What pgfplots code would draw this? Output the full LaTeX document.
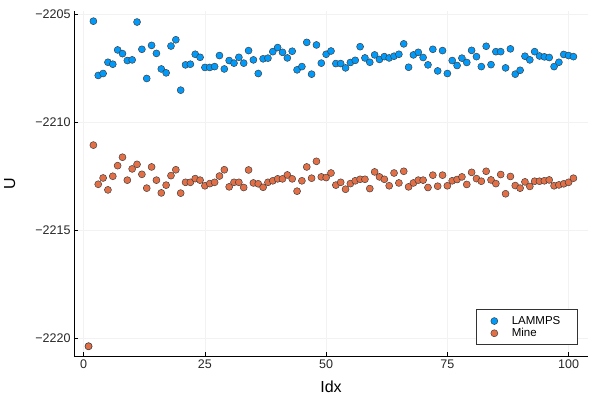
\documentclass[border=0pt]{standalone}
\usepackage{pgfplots}
\pgfplotsset{compat=1.18}
\usepackage{pgfplotstable}
\usepackage{fontspec}
\setmainfont{Liberation Sans}
\definecolor{jblue}{RGB}{0,154,250}
\definecolor{jorange}{RGB}{227,111,71}
\pgfplotstableread{
i y
1 -2220.37
2 -2205.34
3 -2207.85
4 -2207.76
5 -2207.24
6 -2207.33
7 -2206.67
8 -2206.84
9 -2207.16
10 -2207.13
11 -2205.38
12 -2206.64
13 -2207.99
14 -2206.46
15 -2206.83
16 -2207.55
17 -2207.73
18 -2206.49
19 -2206.20
20 -2208.53
21 -2207.36
22 -2207.33
23 -2206.87
24 -2207.01
25 -2207.48
26 -2207.48
27 -2207.44
28 -2206.93
29 -2207.55
30 -2207.16
31 -2207.28
32 -2207.01
33 -2207.28
34 -2206.70
35 -2207.13
36 -2207.76
37 -2207.08
38 -2207.05
39 -2206.75
40 -2206.56
41 -2206.78
42 -2207.04
43 -2206.73
44 -2207.59
45 -2207.44
46 -2206.32
47 -2207.79
48 -2206.44
49 -2207.28
50 -2206.87
51 -2206.72
52 -2207.30
53 -2207.30
54 -2207.50
55 -2207.25
56 -2207.15
57 -2206.52
58 -2207.04
59 -2207.24
60 -2206.90
61 -2207.11
62 -2206.98
63 -2207.04
64 -2206.96
65 -2206.87
66 -2206.39
67 -2207.47
68 -2206.90
69 -2206.78
70 -2207.02
71 -2207.36
72 -2206.64
73 -2207.64
74 -2206.70
75 -2207.76
76 -2207.16
77 -2207.39
78 -2207.05
79 -2207.25
80 -2206.69
81 -2206.98
82 -2207.44
83 -2206.50
84 -2207.35
85 -2206.75
86 -2206.75
87 -2207.50
88 -2206.62
89 -2207.79
90 -2207.61
91 -2206.96
92 -2207.13
93 -2206.75
94 -2206.95
95 -2206.99
96 -2207.02
97 -2207.44
98 -2207.24
99 -2206.88
100 -2206.93
101 -2206.98
}\lammps
\pgfplotstableread{
i y
1 -2220.37
2 -2211.07
3 -2212.88
4 -2212.59
5 -2213.14
6 -2212.51
7 -2212.02
8 -2211.63
9 -2212.69
10 -2212.17
11 -2211.96
12 -2212.42
13 -2213.06
14 -2212.08
15 -2212.69
16 -2213.28
17 -2212.92
18 -2212.48
19 -2212.21
20 -2213.29
21 -2212.79
22 -2212.79
23 -2212.62
24 -2212.69
25 -2212.95
26 -2212.85
27 -2212.79
28 -2212.50
29 -2212.21
30 -2213.00
31 -2212.79
32 -2212.79
33 -2213.03
34 -2212.22
35 -2212.82
36 -2212.86
37 -2213.02
38 -2212.79
39 -2212.72
40 -2212.63
41 -2212.63
42 -2212.45
43 -2212.63
44 -2213.20
45 -2212.72
46 -2212.08
47 -2212.60
48 -2211.82
49 -2212.54
50 -2212.57
51 -2212.36
52 -2212.92
53 -2212.79
54 -2213.11
55 -2212.85
56 -2212.72
57 -2212.65
58 -2212.65
59 -2213.08
60 -2212.31
61 -2212.54
62 -2212.65
63 -2212.95
64 -2212.36
65 -2212.82
66 -2212.28
67 -2213.00
68 -2212.82
69 -2212.69
70 -2212.69
71 -2213.03
72 -2212.46
73 -2212.97
74 -2212.46
75 -2212.95
76 -2212.72
77 -2212.66
78 -2212.54
79 -2212.89
80 -2212.33
81 -2212.62
82 -2212.74
83 -2212.28
84 -2212.68
85 -2212.85
86 -2212.43
87 -2213.32
88 -2212.52
89 -2212.94
90 -2213.06
91 -2212.77
92 -2212.98
93 -2212.74
94 -2212.74
95 -2212.72
96 -2212.68
97 -2212.95
98 -2212.91
99 -2212.86
100 -2212.79
101 -2212.60
}\mine
\begin{document}
\begin{tikzpicture}[x=1pt,y=1pt]
\path[use as bounding box] (0,0) rectangle (598,399);
\begin{axis}[
  at={(74pt,43pt)}, anchor=south west,
  scale only axis, width=514pt, height=345pt,
  xmin=-2, xmax=104, ymin=-2220.82, ymax=-2204.87,
  axis x line*=bottom, axis y line*=left,
  axis line style={black, line width=0.9pt, -},
  xtick={0,25,50,75,100}, xticklabels={0,25,50,75,100},
  ytick={-2220,-2215,-2210,-2205},
  yticklabels={−2220,−2215,−2210,−2205},
  tick align=inside, major tick length=4pt,
  tick style={black, line width=0.6pt},
  grid=major, major grid style={black!5, line width=0.5pt},
  ticklabel style={font=\fontsize{12.5}{14}\selectfont, text=black!85},
  xlabel={Idx}, ylabel={U},
  label style={font=\fontsize{16}{18}\selectfont},
  xlabel style={at={(axis description cs:0.5,-0.09)}, anchor=center},
  ylabel style={at={(axis description cs:-0.125,0.5)}, anchor=center},
  legend style={at={(0.979,0.032)}, anchor=south east, draw=black!80, line width=0.6pt,
    font=\fontsize{11.5}{13}\selectfont, row sep=-1.5pt, inner xsep=14.5pt, inner ysep=4.5pt,
    /tikz/every odd column/.append style={column sep=12pt}},
  legend cell align=left,
  clip=false,
]
\addplot[only marks, mark=*, mark size=3.5pt, mark options={fill=jblue, draw=black!75, line width=0.5pt}] table[x=i,y=y] {\lammps};
\addlegendentry{LAMMPS}
\addplot[only marks, mark=*, mark size=3.5pt, mark options={fill=jorange, draw=black!75, line width=0.5pt}] table[x=i,y=y] {\mine};
\addlegendentry{Mine}
\end{axis}
\end{tikzpicture}
\end{document}
